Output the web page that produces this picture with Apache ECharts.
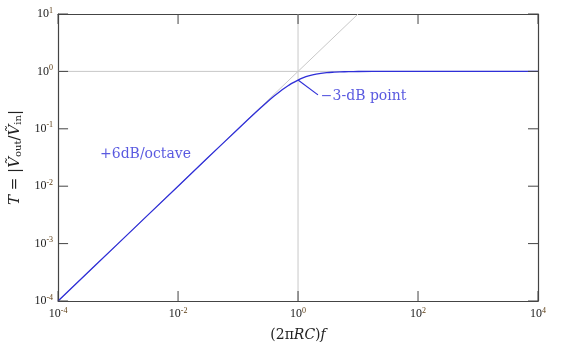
<!DOCTYPE html>
<html>
<head>
<meta charset="utf-8">
<script src="https://cdn.jsdelivr.net/npm/echarts@6/dist/echarts.min.js"></script>
<style>html,body{margin:0;padding:0;background:#fff}#c{width:568px;height:349px}</style>
</head>
<body>
<div id="c"></div>
<script>
// Data
var freq = [1e-4, 1e-3, 1e-2, 0.03, 0.1, 0.2, 0.3, 0.4, 0.5, 0.6, 0.7, 0.8, 1, 1.2, 1.5, 2, 3, 4, 5, 7, 10, 30, 100, 1e3, 1e4];
var gain = [1e-4, 1e-3, 0.01, 0.03, 0.0995, 0.196, 0.287, 0.371, 0.447, 0.514, 0.573, 0.625, 0.707, 0.768, 0.832, 0.894, 0.949, 0.970, 0.981, 0.990, 0.995, 0.9994, 1, 1, 1];
var unityLine = [[1e-4, 1], [1e4, 1]];
var cornerLine = [[1, 1e-4], [1, 10]];
var slopeLine = [[1e-4, 1e-4], [10, 10]];
var leaderLine = [[1, 0.707], [2.15, 0.39]];
var xTicks = [1e-4, 1e-2, 1, 1e2, 1e4];
var yTicks = [1e-4, 1e-3, 1e-2, 1e-1, 1, 10];
var notes = [
  {text: '\u22123-dB point', at: [2.4, 0.37]},
  {text: '+6dB/octave', at: [5e-4, 0.036]}
];

var serif = '"Liberation Serif", "DejaVu Serif", serif';
var wide = '"DejaVu Serif", "Liberation Serif", serif';
var blue = '#2f2fd8';
var grey = '#c8c8c8';
var axisCol = '#444';
var TICK_LEN = 10;

function fmt(v) {
  var e = Math.round(Math.log10(v));
  return '{b|10}{s|' + (e < 0 ? '-' + (-e) : e) + '}';
}
var labelRich = {
  b: {fontFamily: serif, fontSize: 12, color: '#222', lineHeight: 14},
  s: {fontFamily: serif, fontSize: 8, color: '#5a3a10', padding: [0, 0, 7, 0], lineHeight: 14}
};

function mkX(pos, show) {
  return {
    type: 'log', logBase: 10, min: 1e-4, max: 1e4, interval: 2, position: pos,
    axisLine: {show: true, onZero: false, lineStyle: {color: axisCol, width: 1.2}},
    axisTick: {show: false},
    minorTick: {show: false},
    splitLine: {show: false},
    axisLabel: {show: show, formatter: fmt, rich: labelRich, margin: 6},
    name: show ? '{p|(2\u03C0}{i|RC}{p|)}{i|f}' : '',
    nameLocation: 'middle', nameGap: 27,
    nameTextStyle: {rich: {
      p: {fontFamily: wide, fontSize: 14, color: '#222'},
      i: {fontFamily: wide, fontSize: 14, fontStyle: 'italic', color: '#222'}
    }}
  };
}
function mkY(pos, show) {
  return {
    type: 'log', logBase: 10, min: 1e-4, max: 10, interval: 1, position: pos,
    axisLine: {show: true, onZero: false, lineStyle: {color: axisCol, width: 1.2}},
    axisTick: {show: false},
    minorTick: {show: false},
    splitLine: {show: false},
    axisLabel: {show: show, formatter: fmt, rich: labelRich, margin: 5},
    name: show ? '{i|T}{p| = |}{i|V\u0303}{sub|out}{p|/}{i|V\u0303}{sub|in}{p||}' : '',
    nameLocation: 'middle', nameGap: 32, nameRotate: 90,
    nameTextStyle: {rich: {
      p: {fontFamily: wide, fontSize: 15, color: '#222'},
      i: {fontFamily: wide, fontSize: 15, fontStyle: 'italic', color: '#222'},
      sub: {fontFamily: wide, fontSize: 10, color: '#222', padding: [6, 0, 0, 0]}
    }}
  };
}

var chart = echarts.init(document.getElementById('c'), null, {renderer: 'canvas'});
function lineSeries(data, color, width, z) {
  return {type: 'line', data: data, symbol: 'none', silent: true, animation: false, z: z,
    lineStyle: {color: color, width: width}, xAxisIndex: 0, yAxisIndex: 0};
}
var curve = freq.map(function (f, i) { return [f, gain[i]]; });
var curveSeries = lineSeries(curve, blue, 1.3, 5);
curveSeries.smooth = 0.35;

// tick marks drawn inward on all four sides via the axes' own scales
function tickSeries(isX) {
  var vals = isX ? xTicks : yTicks;
  return {
    type: 'custom', silent: true, animation: false, z: 8, clip: false,
    xAxisIndex: 0, yAxisIndex: 0,
    data: vals.map(function (v) { return isX ? [v, 1e-4] : [1e-4, v]; }),
    encode: {x: 0, y: 1},
    renderItem: function (params, api) {
      var cs = params.coordSys;
      var p = api.coord([api.value(0), api.value(1)]);
      var style = {stroke: axisCol, lineWidth: 1};
      var segs;
      if (isX) {
        segs = [[p[0], cs.y + cs.height, p[0], cs.y + cs.height - TICK_LEN],
                [p[0], cs.y, p[0], cs.y + TICK_LEN]];
      } else {
        segs = [[cs.x, p[1], cs.x + TICK_LEN, p[1]],
                [cs.x + cs.width, p[1], cs.x + cs.width - TICK_LEN, p[1]]];
      }
      return {type: 'group', children: segs.map(function (s) {
        return {type: 'line', shape: {x1: s[0], y1: s[1], x2: s[2], y2: s[3]}, style: style};
      })};
    }
  };
}

chart.setOption({
  animation: false,
  grid: {left: 58, right: 30, top: 14, bottom: 48, containLabel: false},
  xAxis: [mkX('bottom', true), mkX('top', false)],
  yAxis: [mkY('left', true), mkY('right', false)],
  series: [
    lineSeries(unityLine, grey, 1, 1),
    lineSeries(cornerLine, grey, 1, 1),
    lineSeries(slopeLine, grey, 1, 1),
    curveSeries,
    lineSeries(leaderLine, blue, 1.2, 5),
    tickSeries(true),
    tickSeries(false),
    {
      type: 'scatter', symbolSize: 0, silent: true, animation: false, z: 6,
      data: notes.map(function (n) { return {value: n.at, name: n.text}; }),
      label: {show: true, position: 'right', distance: 0, formatter: '{b}',
        fontFamily: wide, fontSize: 14, color: blue}
    }
  ]
});
</script>
</body>
</html>
